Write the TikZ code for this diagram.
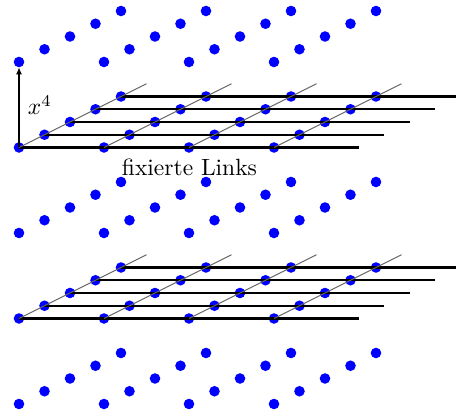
\documentclass[tikz,border=0pt]{standalone}
\usetikzlibrary{arrows.meta}
\begin{document}
\begin{tikzpicture}[x=0.4255pt,y=-0.4255pt,
  dot/.style={circle,fill=blue,inner sep=0pt,outer sep=0pt,minimum size=4.5pt},
  link/.style={line width=0.95pt,black},
  diag/.style={line width=0.45pt,black!60},
  axis/.style={line width=0.95pt,-{Latex[length=3pt,width=2.6pt]}},
  lab/.style={inner sep=0pt,anchor=base west}]
\clip (0,0) rectangle (456,414);
\foreach \b/\yy in {0/62,1/147.5,2/233,3/318.5,4/404}{
  \foreach \r in {0,...,4}{
    \foreach \c in {0,...,3}{
      \node[dot] (d-\b-\r-\c) at ({19+25.5*\r+85*\c},{\yy-12.75*\r}) {};
    }
  }
}
\foreach \b/\yy in {1/147.5,3/318.5}{
  \foreach \r in {0,...,4}{
    \coordinate (e-\b-\r) at ({19+25.5*\r+340},{\yy-12.75*\r});
    \draw[link] (d-\b-\r-0.center) -- (e-\b-\r);
  }
  \foreach \c in {0,...,3}{
    \coordinate (f-\b-\c) at ({19+127.5+85*\c},{\yy-63.75});
    \draw[diag] (d-\b-0-\c.center) -- (f-\b-\c);
  }
}
\draw[axis] (d-1-0-0.center) -- (d-0-0-0);
\node[lab] (x4) at (27.5,115) {$x^4$};
\node[lab] (fl) at (121.5,176) {fixierte Links};
\end{tikzpicture}
\end{document}
